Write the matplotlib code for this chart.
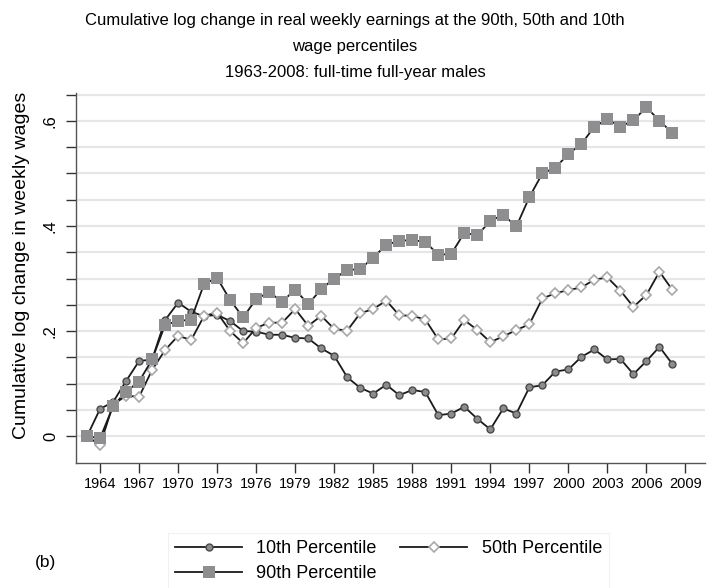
import matplotlib
matplotlib.use("Agg")
import matplotlib.pyplot as plt
import numpy as np

years = list(range(1963, 2009))
p10 = [0.000, 0.052, 0.065, 0.105, 0.143, 0.146, 0.221, 0.254, 0.237, 0.228,
       0.231, 0.219, 0.200, 0.199, 0.193, 0.193, 0.187, 0.186, 0.167, 0.153,
       0.112, 0.092, 0.081, 0.098, 0.078, 0.088, 0.084, 0.040, 0.043, 0.056,
       0.033, 0.013, 0.053, 0.043, 0.093, 0.097, 0.123, 0.127, 0.151, 0.165,
       0.146, 0.147, 0.118, 0.143, 0.170, 0.137]
p50 = [0.000, -0.017, 0.060, 0.077, 0.075, 0.126, 0.164, 0.191, 0.183, 0.229,
       0.235, 0.200, 0.177, 0.206, 0.216, 0.216, 0.242, 0.210, 0.229, 0.204,
       0.201, 0.234, 0.242, 0.258, 0.230, 0.229, 0.222, 0.184, 0.186, 0.221,
       0.202, 0.179, 0.190, 0.202, 0.213, 0.262, 0.272, 0.278, 0.283, 0.298,
       0.302, 0.277, 0.246, 0.269, 0.313, 0.278]
p90 = [0.000, -0.004, 0.057, 0.085, 0.104, 0.146, 0.212, 0.219, 0.222, 0.290,
       0.301, 0.259, 0.226, 0.261, 0.274, 0.256, 0.279, 0.251, 0.280, 0.300,
       0.316, 0.318, 0.340, 0.364, 0.372, 0.373, 0.370, 0.345, 0.347, 0.387,
       0.382, 0.410, 0.421, 0.399, 0.455, 0.500, 0.511, 0.537, 0.556, 0.589,
       0.603, 0.589, 0.601, 0.626, 0.600, 0.577]

labels = ["10th Percentile", "50th Percentile", "90th Percentile"]
xticks = list(range(1964, 2010, 3))
yticks_major = [0, 0.2, 0.4, 0.6]
ytick_labels = ["0", ".2", ".4", ".6"]
title_text = ("Cumulative log change in real weekly earnings at the 90th, 50th and 10th\n"
              "wage percentiles\n1963-2008: full-time full-year males")
ylabel_text = "Cumulative log change in weekly wages"

FONT = ["Liberation Sans Narrow", "Liberation Sans", "DejaVu Sans"]
plt.rcParams['font.family'] = FONT

fig = plt.figure(figsize=(7.10, 5.88), dpi=100)
ax = fig.add_axes([76/710, 1-463/588, (705-76)/710, (463-93)/588])

ax.set_xlim(1962.15, 2010.5)
ax.set_ylim(-0.051, 0.653)

minor = np.arange(0, 0.651, 0.05)
for v in minor:
    ax.axhline(v, color="#e6e6e6", lw=1.6, zorder=0)

line_col = "#1a1a1a"
l1, = ax.plot(years, p10, color=line_col, lw=1.3, marker="o", ms=5.0,
              mfc="#8c8c8c", mec="#4a4a4a", mew=1.0, zorder=3, label=labels[0])
l2, = ax.plot(years, p50, color=line_col, lw=1.3, marker="D", ms=5.3,
              mfc="white", mec="#a8a8a8", mew=1.2, zorder=4, label=labels[1])
l3, = ax.plot(years, p90, color=line_col, lw=1.3, marker="s", ms=9.0,
              mfc="#8e8e91", mec="#8e8e91", mew=0, zorder=5, label=labels[2])

for s in ["top", "right"]:
    ax.spines[s].set_visible(False)
for s in ["left", "bottom"]:
    ax.spines[s].set_color("#555555")
    ax.spines[s].set_linewidth(1.0)

ax.set_xticks(xticks)
ax.set_xticklabels([str(x) for x in xticks], fontsize=10.5)
ax.set_yticks(yticks_major)
ax.set_yticklabels(ytick_labels, fontsize=12, rotation=90, va="center")
ax.set_yticks(minor, minor=True)
ax.tick_params(axis="y", which="both", length=7, width=1.0, color="#333333", pad=6)
ax.tick_params(axis="x", length=7, width=1.0, color="#333333", pad=3)

ax.set_ylabel(ylabel_text, fontsize=14)
ax.yaxis.set_label_coords(-0.073, 0.535)

fig.text(0.5, 1-13/588, title_text, ha="center", va="top", fontsize=12,
         linespacing=1.9)

leg = fig.legend(handles=[l1, l3, l2], loc="upper left",
                 bbox_to_anchor=(168/710, 1-533/588), ncol=2, fontsize=13,
                 frameon=True, fancybox=False, edgecolor="#eeeeee",
                 handlelength=3.7, columnspacing=1.3, handletextpad=0.8,
                 labelspacing=0.45, borderpad=0.4, borderaxespad=0)
leg.get_frame().set_linewidth(0.8)

fig.text(35/710, 1-563/588, "(b)", fontsize=12.5, ha="left", va="center")

fig.savefig("out.png", dpi=100)
